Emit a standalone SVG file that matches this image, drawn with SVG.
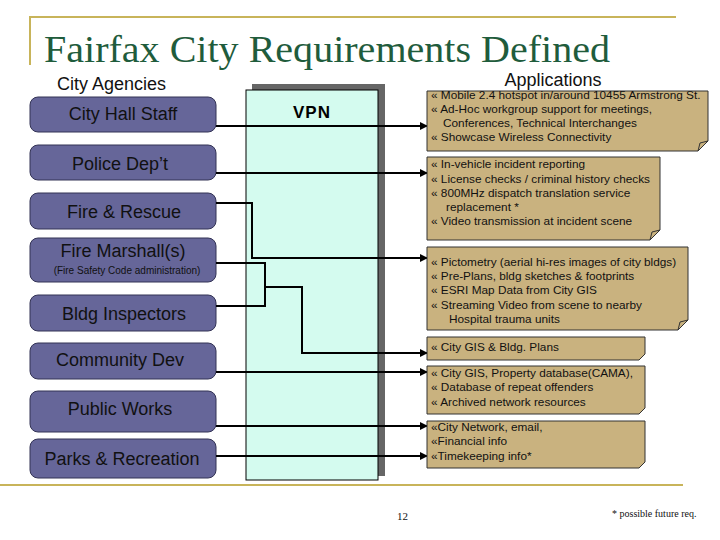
<svg xmlns="http://www.w3.org/2000/svg" width="720" height="540" viewBox="0 0 720 540">
<style>
.ag{fill:#666699;stroke:#333355;stroke-width:1}
.at{font-family:"Liberation Sans",Arial,sans-serif;font-size:18px;fill:#111;text-anchor:middle}
.nt{fill:#c9b27f;stroke:#333;stroke-width:1}
.tx{font-family:"Liberation Sans",Arial,sans-serif;font-size:11.8px;fill:#111}
.cn{fill:none;stroke:#000;stroke-width:2}
</style>
<defs><marker id="ar" markerWidth="8" markerHeight="8" refX="7" refY="4" orient="auto" markerUnits="userSpaceOnUse"><path d="M0,0 L8,4 L0,8 z" fill="#000"/></marker></defs>
<rect width="720" height="540" fill="#fff"/>
<g id="frame" stroke="#c8b45a" stroke-width="2" fill="none">
<path d="M30,65 V17 H676"/><path d="M0,485 H683"/>
</g>
<text x="44" y="62" font-family="Liberation Serif,serif" font-size="38" fill="#1f5c3c" textLength="566" lengthAdjust="spacingAndGlyphs">Fairfax City Requirements Defined</text>
<text x="57" y="90" font-family="Liberation Sans,sans-serif" font-size="18" fill="#111">City Agencies</text>
<text x="553" y="86" font-family="Liberation Sans,sans-serif" font-size="18" fill="#111" text-anchor="middle">Applications</text>
<g id="vpn">
<rect x="252" y="84" width="133" height="392" fill="#666"/>
<rect x="246" y="90" width="132" height="390" fill="#d4fbef" stroke="#000"/>
<text x="312" y="118" font-family="Liberation Sans,sans-serif" font-size="17" font-weight="bold" text-anchor="middle" letter-spacing="1">VPN</text>
</g>
<g id="cityhall"><rect class="ag" x="30" y="97" width="186" height="35" rx="8"/><text class="at" x="123" y="120">City Hall Staff</text></g>
<g id="police"><rect class="ag" x="30" y="145" width="186" height="35" rx="8"/><text class="at" x="120" y="170">Police Dep’t</text></g>
<g id="fire"><rect class="ag" x="30" y="193" width="186" height="36" rx="8"/><text class="at" x="124" y="218">Fire &amp; Rescue</text></g>
<g id="marshall"><rect class="ag" x="30" y="238" width="186" height="44" rx="8"/><text class="at" x="123" y="257">Fire Marshall(s)</text><text x="127" y="274" font-family="Liberation Sans,sans-serif" font-size="10" fill="#111" text-anchor="middle">(Fire Safety Code administration)</text></g>
<g id="bldg"><rect class="ag" x="30" y="295" width="186" height="36" rx="8"/><text class="at" x="124" y="320">Bldg Inspectors</text></g>
<g id="comm"><rect class="ag" x="30" y="343" width="186" height="36" rx="8"/><text class="at" x="120" y="366">Community Dev</text></g>
<g id="pw"><rect class="ag" x="30" y="391" width="186" height="41" rx="8"/><text class="at" x="120" y="415">Public Works</text></g>
<g id="parks"><rect class="ag" x="30" y="439" width="186" height="39" rx="8"/><text class="at" x="122" y="465">Parks &amp; Recreation</text></g>
<g id="connectors">
<path class="cn" d="M216,126 H427" marker-end="url(#ar)"/>
<path class="cn" d="M216,173 H427" marker-end="url(#ar)"/>
<path class="cn" d="M216,203 H252 V258 H427" marker-end="url(#ar)"/>
<path class="cn" d="M216,263 H265 V306 H216"/>
<path class="cn" d="M265,287 H302 V353 H427" marker-end="url(#ar)"/>
<path class="cn" d="M216,372 H427" marker-end="url(#ar)"/>
<path class="cn" d="M216,426 H427" marker-end="url(#ar)"/>
<path class="cn" d="M216,456 H427" marker-end="url(#ar)"/>
</g>
<g id="n1"><path class="nt" d="M427,91 H708 V141 L698,151 H427 Z"/><path d="M698,151 L700,143 L708,141" fill="none" stroke="#333"/>
<text class="tx"><tspan x="431" y="99">« Mobile 2.4 hotspot in/around 10455 Armstrong St.</tspan><tspan x="431" y="113">« Ad-Hoc workgroup support for meetings,</tspan><tspan x="443" y="127">Conferences, Technical Interchanges</tspan><tspan x="431" y="141">« Showcase Wireless Connectivity</tspan></text></g>
<g id="n2"><path class="nt" d="M427,157 H660 V230 L650,240 H427 Z"/><path d="M650,240 L652,232 L660,230" fill="none" stroke="#333"/>
<text class="tx"><tspan x="431" y="168">« In-vehicle incident reporting</tspan><tspan x="431" y="183">« License checks / criminal history checks</tspan><tspan x="431" y="197">« 800MHz dispatch translation service</tspan><tspan x="446" y="211">replacement *</tspan><tspan x="431" y="225">« Video transmission at incident scene</tspan></text></g>
<g id="n3"><path class="nt" d="M427,247 H688 V320 L678,330 H427 Z"/><path d="M678,330 L680,322 L688,320" fill="none" stroke="#333"/>
<text class="tx"><tspan x="431" y="266">« Pictometry (aerial hi-res images of city bldgs)</tspan><tspan x="431" y="280">« Pre-Plans, bldg sketches &amp; footprints</tspan><tspan x="431" y="294">« ESRI Map Data from City GIS</tspan><tspan x="431" y="309">« Streaming Video from scene to nearby</tspan><tspan x="449" y="323">Hospital trauma units</tspan></text></g>
<g id="n4"><path class="nt" d="M427,337 H645 V354 L639,360 H427 Z"/>
<text class="tx"><tspan x="431" y="351">« City GIS &amp; Bldg. Plans</tspan></text></g>
<g id="n5"><path class="nt" d="M427,366 H645 V408 L639,414 H427 Z"/>
<text class="tx"><tspan x="431" y="377">« City GIS, Property database(CAMA),</tspan><tspan x="431" y="391">« Database of repeat offenders</tspan><tspan x="431" y="406">« Archived network resources</tspan></text></g>
<g id="n6"><path class="nt" d="M427,421 H645 V462 L639,468 H427 Z"/>
<text class="tx"><tspan x="431" y="431">«City Network, email,</tspan><tspan x="431" y="445">«Financial info</tspan><tspan x="431" y="460">«Timekeeping info*</tspan></text></g>
<text x="397" y="520" font-family="Liberation Serif,serif" font-size="11" fill="#111">12</text>
<text x="612" y="517" font-family="Liberation Serif,serif" font-size="10" fill="#111">*  possible future req.</text>
</svg>
